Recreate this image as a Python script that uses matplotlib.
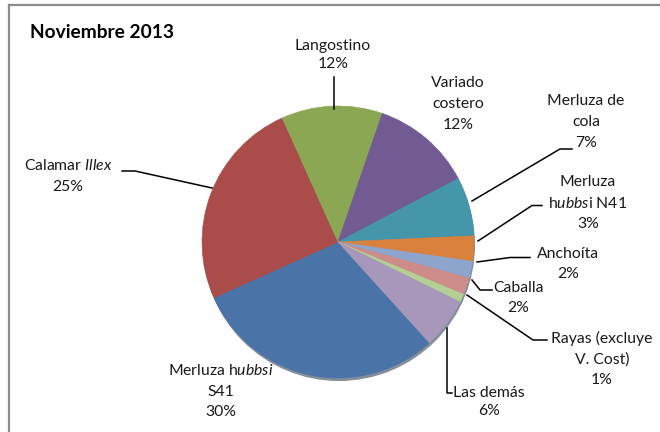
import matplotlib
matplotlib.use("Agg")
import matplotlib.pyplot as plt
from matplotlib.patches import Circle

plt.rcParams['font.family'] = ['Lato', 'DejaVu Sans']
plt.rcParams['mathtext.fontset'] = 'custom'
plt.rcParams['mathtext.rm'] = 'Lato'
plt.rcParams['mathtext.it'] = 'Lato:italic'
plt.rcParams['mathtext.bf'] = 'Lato:bold'

title = "Noviembre 2013"
categories = ["Merluza h$\\mathit{ubbsi}$\nS41", "Calamar $\\mathit{Illex}$", "Langostino",
              "Variado\ncostero", "Merluza de\ncola", "Merluza\nh$\\mathit{ubbs}$i N41",
              "Anchoíta", "Caballa", "Rayas (excluye\nV. Cost)", "Las demás"]
values = [30, 25, 12, 12, 7, 3, 2, 2, 1, 6]
colors = ["#4A73A8", "#A94C4A", "#8CA753", "#725B93", "#4595AB", "#DA823D",
          "#8DA5CD", "#CD8B89", "#B4CE93", "#A797BA"]

W, H = 660, 432
fig = plt.figure(figsize=(6.6, 4.32), dpi=100)
ax = fig.add_axes([0, 0, 1, 1])

def Y(py):
    return H - py

cx, cy, r = 338, 242, 136
# shadow
ax.add_patch(Circle((cx + 1, Y(cy + 3)), r, color="#1f2f45", alpha=0.55, zorder=1, lw=0))
wedges, _ = ax.pie(values, colors=colors, startangle=-47.8, counterclock=False,
                   center=(cx, Y(cy)), radius=r, frame=True,
                   wedgeprops=dict(linewidth=0.4, zorder=2))
for w, c in zip(wedges, colors):
    w.set_edgecolor(c)
ax.set_xlim(0, W)
ax.set_ylim(0, H)
ax.set_aspect('equal')
ax.axis('off')

# border (left and top visible)
ax.plot([8.5, 8.5], [Y(432), Y(4.5)], color="#8c8c8c", lw=1.6, zorder=5)
ax.plot([8.5, 660], [Y(4.5), Y(4.5)], color="#8c8c8c", lw=1.6, zorder=5)

ax.text(30, Y(33), title, fontsize=13.8, fontweight='bold', ha='left', va='center')

fs = 11.3
# label anchor positions (pixel coords of text center)
label_pos = [(221, 391), (68, 176), (333, 55), (458, 104), (586, 122), (588, 203),
             (568, 264), (518, 298), (602, 359), (489, 402)]
spacing = [1.6, 1.6, 1.4, 1.6, 1.6, 1.6, 1.6, 1.5, 1.6, 1.45]
for name, v, (lx, ly), ls in zip(categories, values, label_pos, spacing):
    ax.text(lx, Y(ly), f"{name}\n{v:.0f}%", ha='center', va='center', fontsize=fs,
            linespacing=ls, color="#1a1a1a")

leaders = [
    [(122, 171), (135, 171), (212, 188)],
    [(334, 77), (334, 109)],
    [(472, 201), (560, 149), (572, 149)],
    [(478, 241), (532, 205.5), (542, 205.5)],
    [(477, 262), (510, 257.5), (530, 257.5)],
    [(472, 280), (480, 290), (492, 290)],
    [(467, 295), (533, 340), (547, 340)],
    [(447, 328), (447, 393), (452, 393)],
]
for pts in leaders:
    xs = [p[0] for p in pts]
    ys = [Y(p[1]) for p in pts]
    ax.plot(xs, ys, color="black", lw=1.1, zorder=4)

fig.savefig("out.png", dpi=100)
